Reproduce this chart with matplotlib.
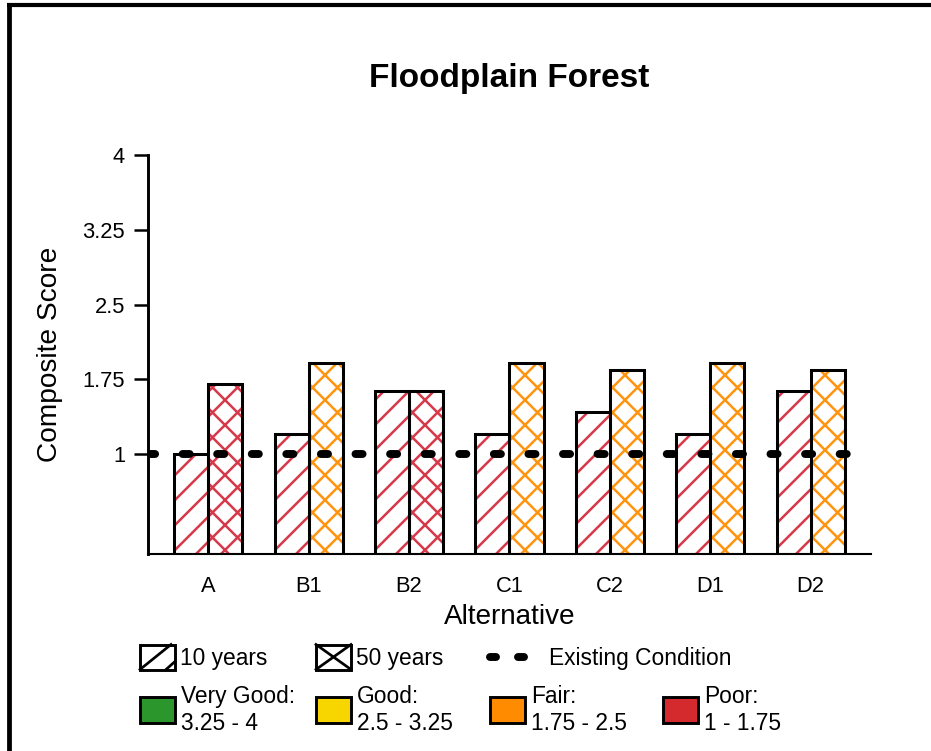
import numpy as np
import matplotlib.pyplot as plt
from matplotlib.patches import Rectangle

plt.rcParams['font.family'] = ['Liberation Sans', 'DejaVu Sans']
plt.rcParams['hatch.linewidth'] = 1.2
plt.rcParams['lines.scale_dashes'] = False

# data
alternatives = ['A', 'B1', 'B2', 'C1', 'C2', 'D1', 'D2']
score_10yr = [1.00, 1.20, 1.63, 1.20, 1.42, 1.20, 1.63]
score_50yr = [1.70, 1.91, 1.63, 1.91, 1.84, 1.91, 1.84]
existing = 1.0

yticks = [1, 1.75, 2.5, 3.25, 4]
ytick_labels = ['1', '1.75', '2.5', '3.25', '4']

rating_names = ['Very Good:', 'Good:', 'Fair:', 'Poor:']
rating_ranges = ['3.25 - 4', '2.5 - 3.25', '1.75 - 2.5', '1 - 1.75']
rating_lower = [3.25, 2.5, 1.75, 1.0]
rating_colors = ['#2b962b', '#f7d600', '#ff8c00', '#d42a2e']
hatch_colors = ['#2b962b', '#e8c800', '#ff9410', '#d63a4a']


def rating_color(v, colors):
    for lo, c in zip(rating_lower, colors):
        if v >= lo:
            return c
    return colors[-1]


W, H, DPI = 932, 751, 150
fig = plt.figure(figsize=(W / DPI, H / DPI), dpi=DPI)
fig.patch.set_facecolor('white')

# main axes, placed by pixel box
ax_l, ax_r, ax_t, ax_b = 148, 871, 155, 554
ax = fig.add_axes([ax_l / W, 1 - ax_b / H, (ax_r - ax_l) / W, (ax_b - ax_t) / H])

x = np.arange(len(alternatives))
w = 0.34
for offs, vals, hatch in [(-w / 2, score_10yr, '//'), (w / 2, score_50yr, 'xx')]:
    hc = [rating_color(v, hatch_colors) for v in vals]
    ax.bar(x + offs, vals, w, color='white', edgecolor=hc, hatch=hatch,
           linewidth=0, zorder=2)
    ax.bar(x + offs, vals, w, fill=False, edgecolor='black', linewidth=1.45,
           zorder=3)

ax.axhline(existing, color='black', lw=3.8, dashes=(3.4, 13.2),
           dash_capstyle='round', zorder=4)

ax.set_xlim(-0.6, 6.6)
ax.set_ylim(0, 4)
ax.set_yticks(yticks)
ax.set_yticklabels(ytick_labels)
ax.set_xticks(x)
ax.set_xticklabels(alternatives)
ax.tick_params(axis='y', length=6.7, width=1.2, pad=4.3, labelsize=10.5)
ax.tick_params(axis='x', length=0, pad=10.5, labelsize=10.5)
for s in ['top', 'right']:
    ax.spines[s].set_visible(False)
ax.spines['left'].set_linewidth(1.4)
ax.spines['bottom'].set_linewidth(1.0)

cx = (ax_l + ax_r) / 2
fig.text(cx / W, 1 - 79 / H, 'Floodplain Forest', ha='center', va='center',
         fontsize=16, fontweight='bold')
fig.text(50 / W, 1 - (ax_t + ax_b) / 2 / H, 'Composite Score', rotation=90,
         ha='center', va='center', fontsize=13.5)
fig.text(cx / W, 1 - 617 / H, 'Alternative', ha='center', va='center',
         fontsize=13.4)

# overlay in pixel units for legend and page frame
lg = fig.add_axes([0, 0, 1, 1])
lg.set_xlim(0, W)
lg.set_ylim(H, 0)
lg.axis('off')
lg.patch.set_alpha(0)

lg.plot([9.5, 9.5], [5, H], color='black', lw=2.3, solid_capstyle='butt')
lg.plot([7, W], [5, 5], color='black', lw=2.0, solid_capstyle='butt')

col_x = [140, 316, 490, 663]
bw, bh = 35, 25
r1 = 657
fs = 10.9

# 10 years
bx = col_x[0]
lg.add_patch(Rectangle((bx, r1 - bh / 2), bw, bh, fc='white', ec='black', lw=1.4))
lg.plot([bx, bx + bw - 4], [r1 + bh / 2, r1 - bh / 2], color='black', lw=1.3)
lg.plot([bx + bw - 9, bx + bw], [r1 + bh / 2, r1 + bh / 2 - 8], color='black', lw=1.3)
lg.text(bx + bw + 5, r1 + 2, '10 years', va='center', fontsize=fs)
# 50 years
bx = col_x[1]
lg.add_patch(Rectangle((bx, r1 - bh / 2), bw, bh, fc='white', ec='black', lw=1.4))
lg.plot([bx, bx + bw], [r1 + bh / 2, r1 - bh / 2], color='black', lw=1.3)
lg.plot([bx, bx + bw], [r1 - bh / 2, r1 + bh / 2], color='black', lw=1.3)
lg.text(bx + bw + 5, r1 + 2, '50 years', va='center', fontsize=fs)
# existing condition
for dx in [493, 521]:
    lg.plot([dx - 3, dx + 3], [r1, r1], color='black', lw=3.8,
            solid_capstyle='round')
lg.text(549, r1 + 2, 'Existing Condition', va='center', fontsize=fs)

# rating swatches
r2 = 710
for bx, name, rng, c in zip(col_x, rating_names, rating_ranges, rating_colors):
    lg.add_patch(Rectangle((bx, r2 - 13), bw, 26, fc=c, ec='black', lw=1.4))
    lg.text(bx + bw + 6, r2, name + '\n' + rng, va='center', ha='left',
            fontsize=fs, linespacing=1.25)

fig.savefig('out.png', dpi=DPI)
